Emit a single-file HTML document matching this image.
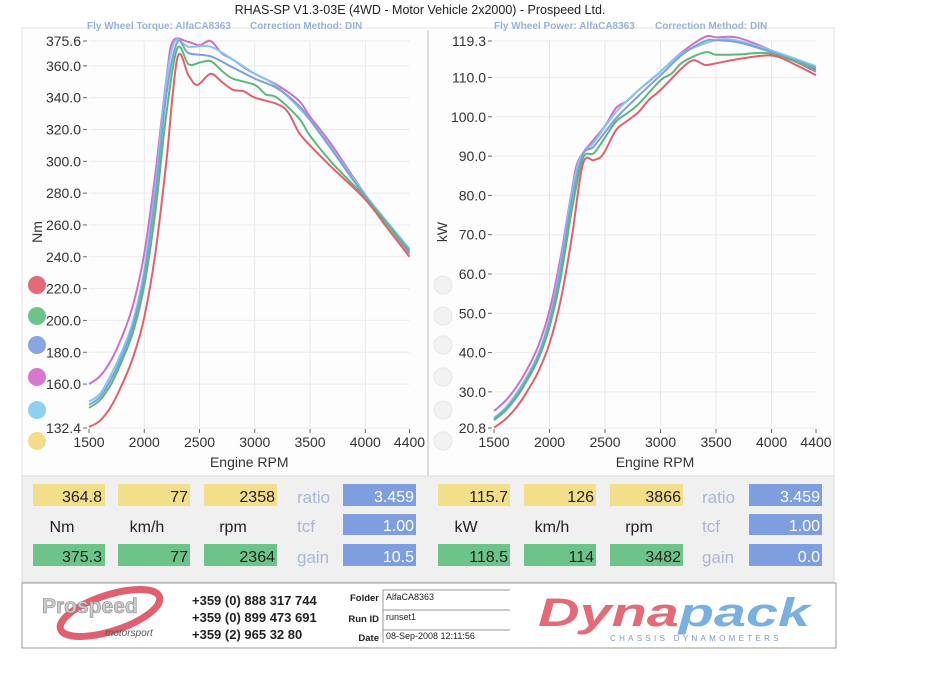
<!DOCTYPE html>
<html><head><meta charset="utf-8"><style>
body{margin:0;width:952px;height:675px;background:#fff;overflow:hidden;font-family:"Liberation Sans",sans-serif;}
svg{position:absolute;left:0;top:0}
</style></head><body>
<svg id="s" width="952" height="675" xmlns="http://www.w3.org/2000/svg" font-family="Liberation Sans, sans-serif">
<rect x="0" y="0" width="952" height="675" fill="#fff"/>
<rect x="22" y="28" width="812" height="450" fill="#fdfdfd" stroke="#e4e4e4"/>
<line x1="428" y1="30" x2="428" y2="478" stroke="#ddd" stroke-width="2"/>
<rect x="22" y="476" width="812" height="106" fill="#f0f0f0" stroke="#ddd"/>
<rect x="22" y="583" width="814" height="65" fill="#fff" stroke="#999"/>
<text x="420" y="14" font-size="12.5" text-anchor="middle" fill="#222">RHAS-SP V1.3-03E  (4WD - Motor Vehicle 2x2000) - Prospeed Ltd.</text>
<text x="87" y="29" font-size="10" font-weight="bold" fill="#9ab2d8">Fly Wheel Torque: AlfaCA8363</text>
<text x="250" y="29" font-size="10" font-weight="bold" fill="#9ab2d8">Correction Method: DIN</text>
<text x="494" y="29" font-size="10" font-weight="bold" fill="#9ab2d8">Fly Wheel Power: AlfaCA8363</text>
<text x="655" y="29" font-size="10" font-weight="bold" fill="#9ab2d8">Correction Method: DIN</text>
<g id="g"></g>
<g font-size="16" fill="#222">
<rect x="33" y="484" width="72" height="22" fill="#f3de8a"/><text x="102" y="502" text-anchor="end">364.8</text>
<rect x="118" y="484" width="72" height="22" fill="#f3de8a"/><text x="188" y="502" text-anchor="end">77</text>
<rect x="204" y="484" width="73" height="22" fill="#f3de8a"/><text x="275" y="502" text-anchor="end">2358</text>
<text x="62" y="532" text-anchor="middle">Nm</text><text x="147" y="532" text-anchor="middle">km/h</text><text x="233" y="532" text-anchor="middle">rpm</text>
<rect x="33" y="544" width="72" height="22" fill="#6cc48a"/><text x="102" y="562" text-anchor="end">375.3</text>
<rect x="118" y="544" width="72" height="22" fill="#6cc48a"/><text x="188" y="562" text-anchor="end">77</text>
<rect x="204" y="544" width="73" height="22" fill="#6cc48a"/><text x="275" y="562" text-anchor="end">2364</text>
<rect x="438" y="484" width="72" height="22" fill="#f3de8a"/><text x="508" y="502" text-anchor="end">115.7</text>
<rect x="524" y="484" width="72" height="22" fill="#f3de8a"/><text x="594" y="502" text-anchor="end">126</text>
<rect x="610" y="484" width="73" height="22" fill="#f3de8a"/><text x="681" y="502" text-anchor="end">3866</text>
<text x="466" y="532" text-anchor="middle">kW</text><text x="552" y="532" text-anchor="middle">km/h</text><text x="639" y="532" text-anchor="middle">rpm</text>
<rect x="438" y="544" width="72" height="22" fill="#6cc48a"/><text x="508" y="562" text-anchor="end">118.5</text>
<rect x="524" y="544" width="72" height="22" fill="#6cc48a"/><text x="594" y="562" text-anchor="end">114</text>
<rect x="610" y="544" width="73" height="22" fill="#6cc48a"/><text x="681" y="562" text-anchor="end">3482</text>
</g>
<g font-size="17" fill="#a8b8d8">
<text x="297" y="503">ratio</text><text x="297" y="532">tcf</text><text x="297" y="563">gain</text>
<text x="702" y="503">ratio</text><text x="702" y="532">tcf</text><text x="702" y="563">gain</text>
</g>
<g font-size="16" fill="#fff">
<rect x="343" y="484" width="73" height="22" fill="#7f9ee0"/><text x="414" y="502" text-anchor="end">3.459</text>
<rect x="343" y="514" width="73" height="21" fill="#7f9ee0"/><text x="414" y="531" text-anchor="end">1.00</text>
<rect x="343" y="544" width="73" height="22" fill="#7f9ee0"/><text x="414" y="562" text-anchor="end">10.5</text>
<rect x="749" y="484" width="73" height="22" fill="#7f9ee0"/><text x="820" y="502" text-anchor="end">3.459</text>
<rect x="749" y="514" width="73" height="21" fill="#7f9ee0"/><text x="820" y="531" text-anchor="end">1.00</text>
<rect x="749" y="544" width="73" height="22" fill="#7f9ee0"/><text x="820" y="562" text-anchor="end">0.0</text>
</g>
<ellipse cx="110" cy="613" rx="52" ry="18" fill="none" stroke="#e06070" stroke-width="7" transform="rotate(-18 110 613)"/>
<text x="42" y="613" font-size="21" font-weight="bold" fill="#ccc" stroke="#888" stroke-width="0.6">Prospeed</text>
<text x="105" y="636" font-size="10" font-style="italic" fill="#555">motorsport</text>
<g font-size="13" fill="#222" font-weight="bold">
<text x="192" y="605">+359 (0) 888 317 744</text><text x="192" y="622">+359 (0) 899 473 691</text><text x="192" y="639">+359 (2) 965 32 80</text>
</g>
<g font-size="9.5" font-weight="bold" fill="#222" text-anchor="end">
<text x="379" y="601">Folder</text><text x="379" y="622">Run ID</text><text x="379" y="641">Date</text>
</g>
<g font-size="9" fill="#222">
<text x="386" y="600">AlfaCA8363</text><text x="386" y="620">runset1</text><text x="386" y="639">08-Sep-2008  12:11:56</text>
</g>
<g stroke="#999" stroke-width="1"><line x1="383" y1="590" x2="510" y2="590"/><line x1="383" y1="610" x2="510" y2="610"/><line x1="383" y1="630" x2="510" y2="630"/><line x1="383" y1="590" x2="383" y2="643"/></g>
<text x="538" y="626" font-size="40" font-weight="bold" font-style="italic" fill="#e46a78" textLength="272" lengthAdjust="spacingAndGlyphs">Dyna<tspan fill="#7ab0e0">pack</tspan></text>
<text x="610" y="641" font-size="8" fill="#7a98d0" letter-spacing="3.3">CHASSIS  DYNAMOMETERS</text>
</svg>
<script>
var g=document.getElementById('g'),h='';
function L(x1,y1,x2,y2,c,w){h+='<line x1="'+x1+'" y1="'+y1+'" x2="'+x2+'" y2="'+y2+'" stroke="'+c+'" stroke-width="'+(w||1)+'"/>';}
function T(x,y,t,s,a,extra){h+='<text x="'+x+'" y="'+y+'" font-size="'+s+'" text-anchor="'+(a||'start')+'" fill="#333" '+(extra||'')+'>'+t+'</text>';}
var charts=[{x0:89,x1:409.5,lo:132.4,hi:375.6,ticks:['375.6',360,340,320,300,280,260,240,220,200,180,160,'132.4'],lab:'Nm',lx:37},
{x0:494,x1:816,lo:20.8,hi:119.3,ticks:['119.3',110,100,90,80,70,60,50,40,30,'20.8'],lab:'kW',lx:442}];
var Y0=41,Y1=428;
charts.forEach(function(c,i){
 c.X=function(r){return c.x0+(r-1500)/2900*(c.x1-c.x0)};
 c.Y=function(v){return Y0+(c.hi-v)/(c.hi-c.lo)*(Y1-Y0)};
 [2000,2500,3000,3500,4000].forEach(function(r){L(c.X(r),Y0,c.X(r),Y1,'#e8e8e8');});
 c.ticks.forEach(function(t){var v=parseFloat(t),y=c.Y(v);
  L(c.x0,y,c.x1,y,'#ececec');L(c.x0-6,y,c.x0-2,y,'#666');
  T(c.x0-8,y+5,typeof t=='string'?t:t.toFixed(1),14,'end');});
 [1500,2000,2500,3000,3500,4000,4400].forEach(function(r){T(c.X(r),Y1+19,r,14,'middle');L(c.X(r),Y1+1,c.X(r),Y1+5,'#666');});
 T((c.x0+c.x1)/2,Y1+39,'Engine RPM',14,'middle');
 T(c.lx+5,232,c.lab,14,'middle','transform="rotate(-90 '+(c.lx+5)+' 232)"');
});
var D={
red:[[1500,133],[1600,137],[1700,146],[1800,160],[1900,177],[2000,202],[2100,242],[2200,300],[2300,365],[2400,354],[2480,348],[2600,355],[2700,350],[2800,345],[2900,344],[3000,340],[3200,336],[3300,331],[3400,318],[3500,310],[3700,296],[4000,276],[4200,258],[4400,240]],
green:[[1500,145],[1600,150],[1700,160],[1800,175],[1900,193],[2000,222],[2100,268],[2200,330],[2300,371],[2400,361],[2500,362],[2600,363],[2700,357],[2800,352],[3000,348],[3100,342],[3200,340],[3400,327],[3500,316],[3700,299],[4000,277],[4400,243]],
blue:[[1500,147],[1600,152],[1700,163],[1800,178],[1900,197],[2000,228],[2100,278],[2200,342],[2300,375],[2400,368],[2600,366],[2800,359],[3000,352],[3200,346],[3400,335],[3500,326],[3700,307],[4000,278],[4400,244]],
cyan:[[1500,149],[1600,154],[1700,166],[1800,181],[1900,200],[2000,232],[2100,284],[2200,350],[2280,375.6],[2400,372],[2600,372],[2800,364],[3000,355],[3200,347],[3500,326],[3700,308],[4000,279],[4400,245]],
mag:[[1500,160],[1600,165],[1700,175],[1800,190],[1900,210],[2000,242],[2100,292],[2200,352],[2260,375.6],[2400,375],[2500,373],[2600,375.6],[2700,368],[2800,364],[2900,359],[3000,355],[3200,348],[3400,338],[3500,328],[3700,310],[4000,279],[4400,242]]};
var col={red:'#e0606e',green:'#5cb87a',blue:'#7f9fdc',cyan:'#82c8ee',mag:'#d06ec8'};
function path(pts){var d='M'+pts[0][0].toFixed(1)+','+pts[0][1].toFixed(1);
 for(var i=0;i<pts.length-1;i++){var p0=pts[i-1]||pts[i],p1=pts[i],p2=pts[i+1],p3=pts[i+2]||p2;
  d+=' C'+(p1[0]+(p2[0]-p0[0])/6).toFixed(1)+','+(p1[1]+(p2[1]-p0[1])/6).toFixed(1)+' '+(p2[0]-(p3[0]-p1[0])/6).toFixed(1)+','+(p2[1]-(p3[1]-p1[1])/6).toFixed(1)+' '+p2[0].toFixed(1)+','+p2[1].toFixed(1);}
 return d;}
['mag','cyan','blue','green','red'].forEach(function(k){
 var a=charts[0],b=charts[1];
 var p1=D[k].map(function(p){return [a.X(p[0]),a.Y(p[1])]});
 var p2=D[k].map(function(p){return [b.X(p[0]),b.Y(p[1]*p[0]/9549)]});
 h+='<path d="'+path(p1)+'" fill="none" stroke="'+col[k]+'" stroke-width="2"/>';
 h+='<path d="'+path(p2)+'" fill="none" stroke="'+col[k]+'" stroke-width="2"/>';
});
var cc=['#e46a78','#6cc48a','#8aa6e0','#d878cc','#8ed0f0','#f0dc8a'],cy=[285,316,345,377,410,441];
cc.forEach(function(c,i){h+='<circle cx="37" cy="'+cy[i]+'" r="9" fill="'+c+'"/>';h+='<circle cx="443" cy="'+cy[i]+'" r="9" fill="#f2f2f2" stroke="#e6e6e6"/>';});
g.innerHTML=h;
</script>
</body></html>
